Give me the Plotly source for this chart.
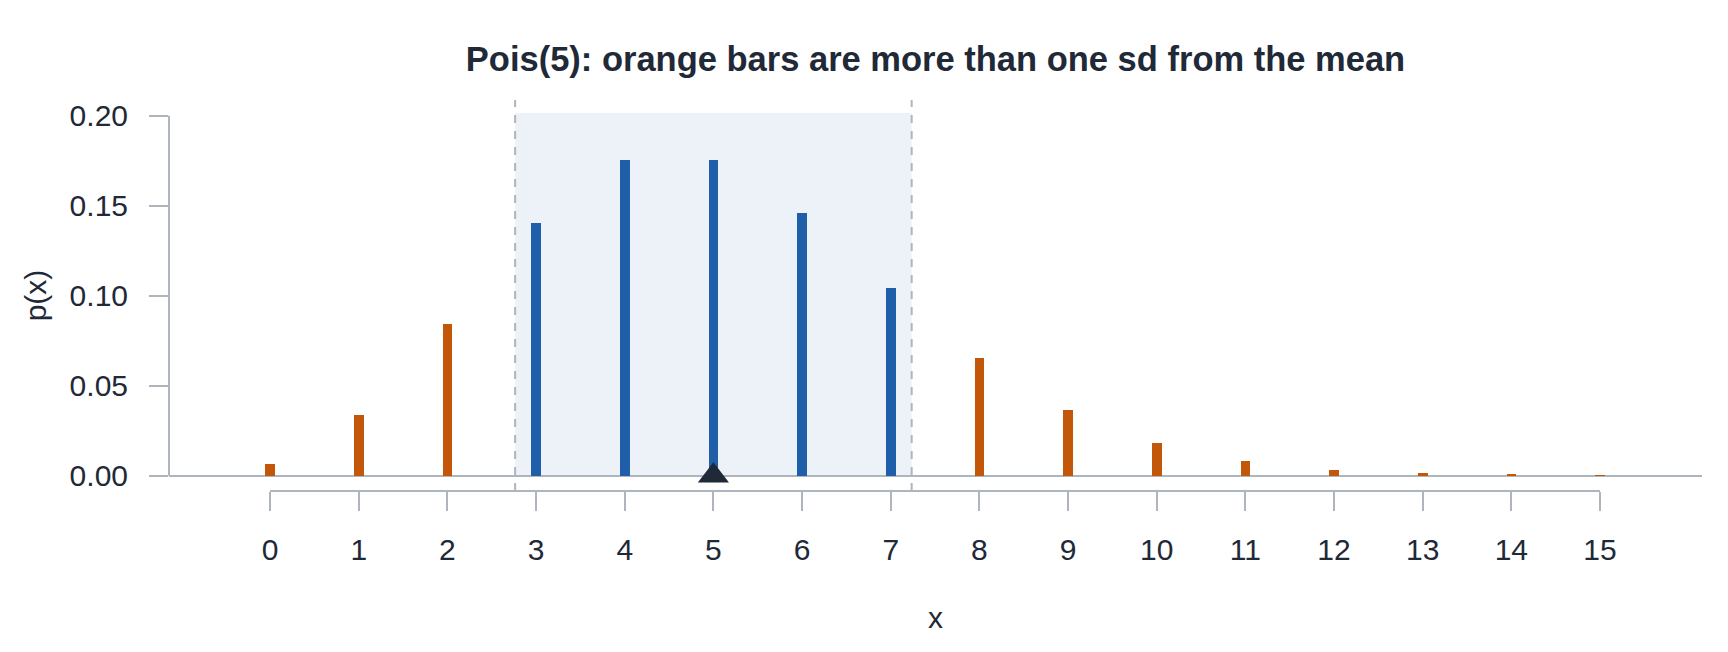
import numpy as np
import plotly.graph_objects as go

# Poisson(5) probabilities
x_vals = list(range(16))
p_vals = [0.0067, 0.0337, 0.0842, 0.1404, 0.1755, 0.1755, 0.1462, 0.1044,
          0.0653, 0.0363, 0.0181, 0.0082, 0.0034, 0.0013, 0.0005, 0.0002]
lam = 5
mean = lam
sd = np.sqrt(lam)
y_ticks = [0.0, 0.05, 0.10, 0.15, 0.20]
title_text = "Pois(5): orange bars are more than one sd from the mean"

ORANGE = "#c2570a"
BLUE = "#1f5ea8"
INK = "#1f2937"
AXIS = "#aeb5bd"
SHADE = "#edf2f9"
FONT = "Liberation Sans, Arial, sans-serif"

# colour each bar by whether it falls within one sd of the mean
bar_colors = [BLUE if abs(x - mean) <= sd else ORANGE for x in x_vals]

fig = go.Figure()

fig.add_trace(
    go.Bar(
        x=x_vals,
        y=p_vals,
        width=0.11,
        marker=dict(color=bar_colors, line=dict(width=0)),
        hovertemplate="x=%{x}<br>p(x)=%{y:.4f}<extra></extra>",
        showlegend=False,
    )
)

# mean marker
fig.add_trace(
    go.Scatter(
        x=[mean],
        y=[0],
        mode="markers",
        marker=dict(symbol="triangle-up", size=27, color=INK, line=dict(width=0)),
        cliponaxis=False,
        hoverinfo="skip",
        showlegend=False,
    )
)

# shaded band of +/- one sd, with dashed edges
fig.add_shape(
    type="rect", xref="x", yref="y",
    x0=mean - sd, x1=mean + sd, y0=0, y1=0.2015,
    fillcolor=SHADE, line=dict(width=0), layer="below",
)
for edge in (mean - sd, mean + sd):
    fig.add_shape(
        type="line", xref="x", yref="paper",
        x0=edge, x1=edge, y0=0, y1=1,
        line=dict(color=AXIS, width=2, dash="8px,8px"),
    )

# offset axis lines (only span the tick range)
fig.add_shape(
    type="line", xref="x", yref="paper",
    x0=min(x_vals), x1=max(x_vals), y0=0, y1=0,
    line=dict(color=AXIS, width=2),
)
fig.add_shape(
    type="line", xref="paper", yref="y",
    x0=0, x1=0, y0=min(y_ticks), y1=max(y_ticks),
    line=dict(color=AXIS, width=2),
)

fig.update_xaxes(
    range=[-1.14, 16.15],
    tickvals=x_vals,
    ticktext=[str(v) for v in x_vals],
    ticks="outside", ticklen=19, tickwidth=2, tickcolor=AXIS,
    ticklabelstandoff=13,
    automargin=False,
    showline=False, showgrid=False, zeroline=False,
    tickfont=dict(size=30, color=INK, family=FONT),
    title=dict(text="x", font=dict(size=30, color=INK, family=FONT), standoff=41),
)
fig.update_yaxes(
    range=[-0.0085, 0.2087],
    tickvals=y_ticks,
    tickformat=".2f",
    ticks="outside", ticklen=19, tickwidth=2, tickcolor=AXIS,
    ticklabelstandoff=15,
    automargin=False,
    showline=False, showgrid=False,
    zeroline=True, zerolinecolor=AXIS, zerolinewidth=2,
    tickfont=dict(size=30, color=INK, family=FONT),
    title=dict(text="p(x)", font=dict(size=30, color=INK, family=FONT), standoff=14),
)

fig.update_layout(
    template="none",
    width=1728,
    height=652,
    margin=dict(l=161, r=34, t=92, b=169),
    plot_bgcolor="white",
    paper_bgcolor="white",
    font=dict(family=FONT, color=INK),
    bargap=0,
    showlegend=False,
    title=dict(
        text="<b>" + title_text + "</b>",
        x=0.5, xref="paper", xanchor="center",
        y=1 - 51 / 652, yref="container", yanchor="middle",
        font=dict(size=34.5, color=INK, family=FONT),
    ),
)

fig.write_html("out.html")
